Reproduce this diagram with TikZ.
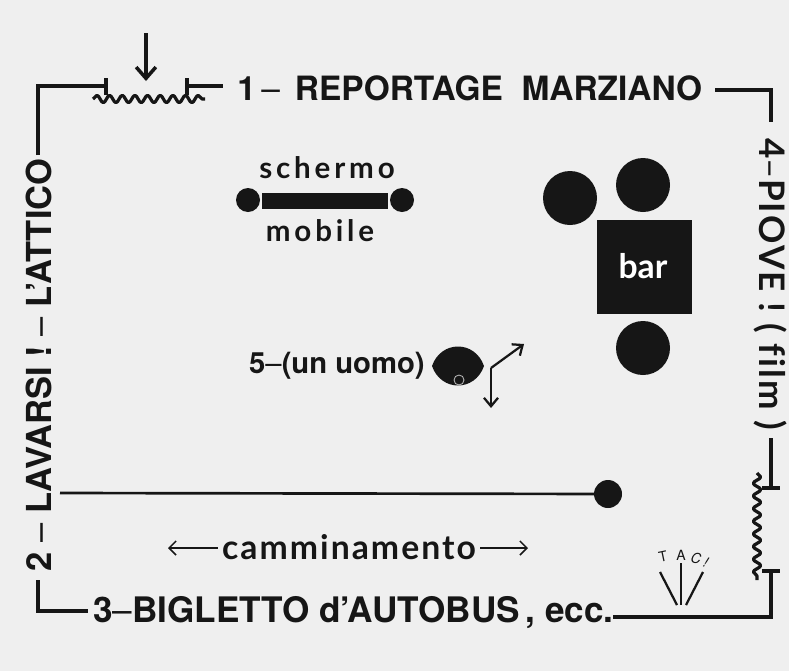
\documentclass[tikz,border=0pt]{standalone}
\usepackage{fontspec}
\setmainfont{TeX Gyre Heros}
\newfontfamily\optfont{Lato}[Ligatures=NoCommon]
\newfontfamily\optspaced{Lato}[LetterSpace=13]
\newfontfamily\optwide{Lato}[LetterSpace=6, Ligatures=NoCommon]
\usetikzlibrary{arrows.meta, decorations.pathmorphing, positioning}
\definecolor{paper}{RGB}{239,239,239}
\definecolor{ink}{RGB}{22,22,22}

\tikzset{
  frame/.style={line width=2.7pt, draw=ink},
  wavy/.style={line width=2.3pt, draw=ink, line join=round, decorate,
    decoration={snake, segment length=9pt, amplitude=2.6pt}},
  capstext/.style={inner sep=0pt, text=ink, font=\bfseries},
  labeltext/.style={inner sep=0pt, text=ink},
  blob/.style={fill=ink},
  thinarrow/.style={line width=1.6pt, draw=ink, -{Straight Barb[length=6pt, width=10pt]}},
}

\begin{document}
\begin{tikzpicture}[x=0.025cm, y=-0.025cm]
  \useasboundingbox (0,0) rectangle (789,671);
  \fill[paper] (0,0) rectangle (789,671);

  % titoli del percorso
  \node[capstext, font=\bfseries\fontsize{23.8pt}{26pt}\selectfont, anchor=west] (reportage) at (237,88)
    {1\,{\mdseries –}\ \,REPORTAGE\ \ MARZIANO};
  \node[capstext, font=\bfseries\fontsize{25pt}{27pt}\selectfont, anchor=base west] (biglietto) at (93,622)
    {3{\mdseries –}BIGLETTO d’AUTOBUS\,, ecc.};
  \node[capstext, font=\bfseries\fontsize{24.5pt}{26pt}\selectfont, rotate=90] (lavarsi) at (39,365)
    {2 {\mdseries –} LAVARSI ! {\mdseries –} L’ATTICO};
  \node[labeltext, font=\optwide\bfseries\fontsize{25pt}{27pt}\selectfont, rotate=-90] (piove) at (771,284)
    {4{\mdseries –}PIOVE ! ( film )};

  % cornice in alto a sinistra, con la porta
  \coordinate (tl) at (38,86);
  \coordinate (tlend) at (106,86);
  \coordinate (leftup) at (38,155);
  \draw[frame] (leftup) -- (tl) -- (tlend);
  \draw[frame] (106,78) -- (106,95);
  \draw[frame] (187,78) -- (187,95);
  \coordinate (doorend) at (187,86);
  \coordinate (toplead) at (223,86);
  \draw[frame] (doorend) -- (toplead);
  \draw[wavy] (93,99) -- (205,99);
  \coordinate (entrytop) at (146,33);
  \coordinate (entrytip) at (146,81);
  \draw[line width=2.5pt, ink, -{Straight Barb[length=8pt, width=14pt]}] (entrytop) -- (entrytip);

  % cornice in alto a destra
  \coordinate (trlead) at (715,90);
  \coordinate (tr) at (771,90);
  \coordinate (rightup) at (771,122);
  \draw[frame] (trlead) -- (tr) -- (rightup);

  % lato destro, con la porta
  \coordinate (rightmid) at (771,438);
  \coordinate (rightdoor) at (771,488);
  \draw[frame] (rightmid) -- (rightdoor);
  \draw[frame] (762,488) -- (780,488);
  \draw[wavy] (757,473) -- (757,580);
  \draw[frame] (762,571) -- (780,571);
  \coordinate (rightlow) at (771,571);
  \coordinate (br) at (771,617);
  \coordinate (brlead) at (613,617);
  \draw[frame] (rightlow) -- (br) -- (brlead);

  % angolo in basso a sinistra
  \coordinate (leftlow) at (38,580);
  \coordinate (bl) at (38,611);
  \coordinate (bllead) at (88,611);
  \draw[frame] (leftlow) -- (bl) -- (bllead);

  % TAC!
  \node[labeltext, font=\fontsize{10pt}{10pt}\selectfont, rotate=12] (tact) at (663,557) {T};
  \node[labeltext, font=\fontsize{10pt}{10pt}\selectfont] (taca) at (681,555) {A};
  \node[labeltext, font=\fontsize{10pt}{10pt}\selectfont\itshape, rotate=-10] (tacc) at (696,558) {C};
  \node[labeltext, font=\fontsize{10pt}{10pt}\selectfont\itshape, rotate=-20] (tacx) at (706,562) {!};
  \draw[line width=1.6pt, ink] (660,572) -- (677,605);
  \draw[line width=1.6pt, ink] (681,563) -- (681,605);
  \draw[line width=1.6pt, ink] (703,572) -- (686,605);

  % schermo mobile
  \node[labeltext, font=\optspaced\bfseries\fontsize{21pt}{23pt}\selectfont] (schermo) at (327,168) {schermo};
  \fill[blob] (248,200) circle (12);
  \fill[blob] (402,200) circle (12);
  \fill[blob] (262,193) rectangle (388,209);
  \node[labeltext, font=\optspaced\bfseries\fontsize{21pt}{23pt}\selectfont] (mobile) at (320,231) {mobile};

  % bar e tavolini
  \fill[blob] (570,198) circle (27);
  \fill[blob] (643,185) circle (27);
  \fill[blob] (643,348) circle (27);
  \fill[blob] (597,220) rectangle (692,314);
  \node[labeltext, text=white, font=\optfont\bfseries\fontsize{24pt}{26pt}\selectfont] (bar) at (643,266) {bar};

  % 5 - un uomo
  \node[capstext, font=\bfseries\fontsize{20.8pt}{22pt}\selectfont, anchor=east] (uomo) at (425,366)
    {5{\mdseries –}(un uomo)};
  \fill[blob] (432,366) .. controls (441,340) and (475,340) .. (484,366)
    .. controls (475,392) and (441,392) .. (432,366);
  \draw[gray!55, line width=0.6pt] (459,380) circle (5);
  \coordinate (turn) at (491,368);
  \coordinate (goout) at (524,344);
  \coordinate (godown) at (491,408);
  \draw[thinarrow] (turn) -- (goout);
  \draw[thinarrow] (turn) -- (godown);

  % camminamento
  \coordinate (walkstart) at (60,493);
  \coordinate (walkend) at (608,494);
  \draw[line width=1.9pt, ink] (walkstart) -- (walkend);
  \fill[blob] (walkend) circle (14);
  \node[labeltext, font=\optwide\bfseries\fontsize{24pt}{26pt}\selectfont] (cammino) at (349,547) {camminamento};
  \coordinate (camleft) at (168,548);
  \coordinate (camright) at (528,548);
  \draw[line width=1.1pt, ink, -{Straight Barb[length=5pt, width=10pt]}] (cammino.west) ++(-4,1) -- (camleft);
  \draw[line width=1.1pt, ink, -{Straight Barb[length=5pt, width=10pt]}] (cammino.east) ++(4,1) -- (camright);
\end{tikzpicture}
\end{document}
